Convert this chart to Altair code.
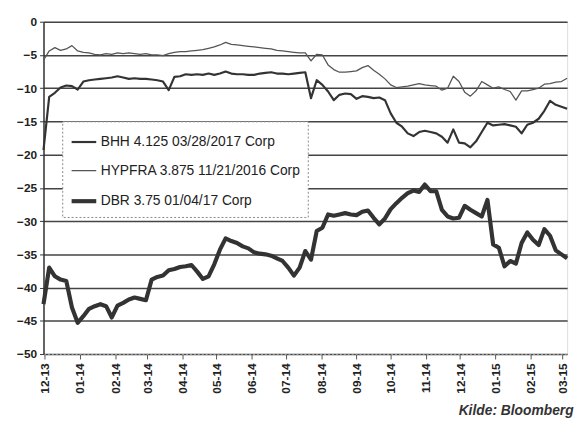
import altair as alt
import pandas as pd

series_names = ["BHH 4.125 03/28/2017 Corp", "HYPFRA 3.875 11/21/2016 Corp", "DBR 3.75 01/04/17 Corp"]
series_colors = ["#333333", "#555555", "#333333"]
series_widths = [2.2, 1.3, 4.2]

# observation dates (every 5 days)
dates = pd.date_range("2013-11-30", periods=93, freq="5D")

bhh = [-19.3, -11.3, -10.7, -9.9, -9.6, -9.7, -10.2, -9.0, -8.8, -8.7,
       -8.6, -8.5, -8.4, -8.2, -8.4, -8.6, -8.5, -8.6, -8.6, -8.7,
       -8.8, -9.0, -10.3, -8.3, -8.2, -7.9, -8.0, -7.9, -8.0, -7.8,
       -8.0, -7.8, -7.5, -7.8, -7.9, -7.9, -8.0, -8.0, -7.8, -7.7,
       -7.6, -7.8, -7.8, -7.9, -7.8, -7.7, -7.6, -11.5, -8.8, -9.5,
       -10.5, -11.8, -11.0, -10.8, -10.9, -11.6, -11.2, -11.3, -11.5, -11.4,
       -11.8, -13.8, -15.2, -15.8, -16.8, -17.2, -16.6, -16.4, -16.6, -16.8,
       -17.3, -18.2, -16.2, -18.2, -18.3, -18.9, -18.0, -16.6, -15.2, -15.6,
       -15.5, -15.4, -15.6, -15.8, -16.8, -15.5, -15.2, -14.6, -13.4, -11.9,
       -12.5, -12.8, -13.1]

hypfra = [-5.8, -4.4, -3.9, -4.3, -4.1, -3.6, -4.4, -4.6, -4.7, -4.9,
          -5.0, -4.8, -4.9, -4.7, -4.8, -4.7, -4.8, -4.9, -4.8, -5.0,
          -5.0, -5.1, -4.8, -4.6, -4.5, -4.5, -4.4, -4.3, -4.2, -4.0,
          -3.8, -3.5, -3.1, -3.4, -3.5, -3.6, -3.7, -3.8, -3.9, -4.0,
          -4.1, -4.3, -4.4, -4.5, -4.6, -4.7, -4.7, -5.9, -4.9, -5.0,
          -6.5, -7.2, -7.6, -7.6, -7.5, -7.4, -6.9, -6.6, -7.3, -7.9,
          -8.6, -9.5, -9.9, -9.8, -9.7, -9.5, -9.3, -9.5, -9.6, -9.7,
          -10.3, -10.0, -8.2, -9.0, -10.6, -11.2, -10.4, -9.0, -9.5, -10.0,
          -9.8, -10.2, -10.5, -11.8, -10.4, -10.4, -10.2, -10.0, -9.4, -9.3,
          -9.1, -9.0, -8.5]

dbr = [-42.5, -37.0, -38.3, -38.8, -39.0, -43.0, -45.3, -44.3, -43.2, -42.8,
       -42.5, -42.8, -44.5, -42.7, -42.3, -41.8, -41.5, -41.7, -41.9, -38.8,
       -38.4, -38.2, -37.4, -37.2, -36.9, -36.8, -36.6, -37.6, -38.7, -38.3,
       -36.5, -34.3, -32.6, -33.0, -33.3, -33.8, -34.1, -34.7, -34.9, -35.0,
       -35.2, -35.6, -36.0, -37.0, -38.2, -37.0, -34.5, -35.8, -31.5, -31.0,
       -29.0, -29.2, -29.0, -28.8, -29.0, -29.1, -28.6, -28.4, -29.5, -30.5,
       -29.6, -28.2, -27.3, -26.5, -25.8, -25.4, -25.6, -24.5, -25.5, -25.5,
       -28.3, -29.3, -29.6, -29.5, -27.7, -28.3, -28.8, -29.3, -26.8, -33.5,
       -34.0, -36.8, -36.0, -36.4, -33.3, -31.7, -32.8, -33.6, -31.2, -32.2,
       -34.4, -35.0, -35.6]

y_ticks = [0, -5, -10, -15, -20, -25, -30, -35, -40, -45, -50]
source_text = ["Kilde: Bloomberg"]

frames = []
for name, vals in zip(series_names, [bhh, hypfra, dbr]):
    frames.append(pd.DataFrame({"date": dates, "value": vals, "series": name}))
df = pd.concat(frames, ignore_index=True)

legend_cfg = dict(
    title=None, orient="none", legendX=19, legendY=101,
    symbolType="stroke", symbolSize=625, labelFontSize=14,
    labelFont="Liberation Sans", labelColor="#222", labelOffset=2,
    padding=7, rowPadding=8.5, strokeColor="#888",
    fillColor="white", labelLimit=400,
)

lines = alt.Chart(df).mark_line(strokeJoin="round").encode(
    x=alt.X("date:T",
            scale=alt.Scale(domain=["2013-11-30", "2015-03-05"]),
            axis=alt.Axis(title=None, format="%m-%y", labelAngle=-90,
                          tickCount={"interval": "month", "step": 1},
                          grid=False, labelFontSize=12, labelFontWeight="bold",
                          labelFont="Liberation Sans", labelColor="#222",
                          tickSize=5, tickColor="#555", labelPadding=4,
                          domainColor="#999", domainDash=[2, 2])),
    y=alt.Y("value:Q",
            scale=alt.Scale(domain=[-50, 0], nice=False),
            axis=alt.Axis(title=None, values=y_ticks, grid=True,
                          gridColor="#444444", gridWidth=1.5,
                          labelFontSize=12, labelFontWeight="bold",
                          labelFont="Liberation Sans", labelColor="#222",
                          tickSize=4, tickColor="#333", labelPadding=3,
                          domainColor="#333", domainWidth=1.5)),
    color=alt.Color("series:N", sort=series_names,
                    scale=alt.Scale(domain=series_names, range=series_colors),
                    legend=alt.Legend(**legend_cfg)),
    strokeWidth=alt.StrokeWidth("series:N", sort=series_names,
                                scale=alt.Scale(type="ordinal", domain=series_names, range=series_widths),
                                legend=alt.Legend(**legend_cfg)),
    order=alt.Order("series:N"),
)

source = alt.Chart(pd.DataFrame({"t": source_text})).mark_text(
    align="left", baseline="alphabetic", font="Liberation Sans",
    fontSize=14, fontWeight="bold", fontStyle="italic", color="#333",
).encode(text="t:N", x=alt.value(421), y=alt.value(399))

chart = alt.layer(lines, source).properties(
    width=531, height=337,
    autosize=alt.AutoSizeParams(type="none"),
    padding={"left": 36, "top": 11, "right": 9, "bottom": 65},
).configure_view(stroke="#555", strokeWidth=1.2).configure(
    background="white"
).configure_legend(strokeDash=[2, 2])

chart.save("out.html", embed_options={"renderer": "svg", "actions": False})
